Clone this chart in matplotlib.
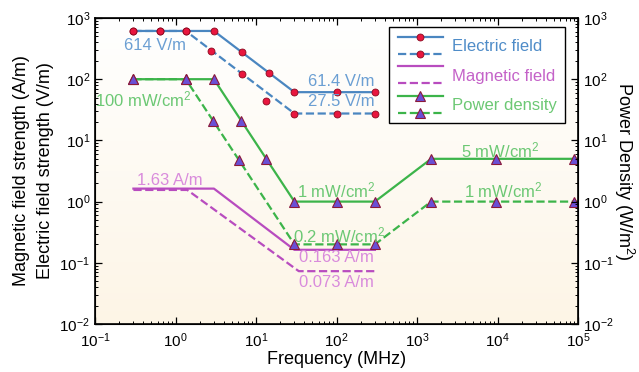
import matplotlib
matplotlib.use("Agg")
import matplotlib.pyplot as plt
import numpy as np
from matplotlib.lines import Line2D
from matplotlib.legend_handler import HandlerBase
from matplotlib.colors import LinearSegmentedColormap

plt.rcParams['font.family'] = ['Liberation Sans', 'DejaVu Sans']
plt.rcParams['mathtext.fontset'] = 'custom'
plt.rcParams['mathtext.rm'] = 'Liberation Sans'
plt.rcParams['mathtext.it'] = 'Liberation Sans:italic'

# --- data (frequency in MHz) ---
e_solid_f = [0.3, 3, 30, 300]
e_solid_v = [614, 614, 61.4, 61.4]
e_solid_mf = [0.3, 0.65, 1.34, 3, 6.7, 14.5, 30, 100, 300]
e_solid_mv = [614, 614, 614, 614, 275, 127, 61.4, 61.4, 61.4]

e_dash_f = [0.3, 1.34, 30, 300]
e_dash_v = [614, 614, 27.5, 27.5]
e_dash_mf = [0.3, 0.65, 1.34, 2.8, 6.7, 13.3, 30, 100, 300]
e_dash_mv = [614, 614, 614, 293, 123, 44, 27.5, 27.5, 27.5]

h_solid_f = [0.3, 3, 30, 300]
h_solid_v = [1.63, 1.63, 0.163, 0.163]
h_dash_f = [0.3, 1.4, 34, 300]
h_dash_v = [1.55, 1.55, 0.073, 0.073]

p_solid_f = [0.3, 3, 30, 300, 1500, 100000]
p_solid_v = [100, 100, 1, 1, 5, 5]
p_solid_mf = [0.3, 1.34, 3, 6.5, 13.3, 30, 100, 300, 1500, 9500, 88000]
p_solid_mv = [100, 100, 100, 21, 4.9, 1, 1, 1, 5, 5, 5]

p_dash_f = [0.3, 1.34, 30, 300, 1500, 100000]
p_dash_v = [100, 100, 0.2, 0.2, 1, 1]
p_dash_mf = [0.3, 1.34, 2.9, 6.2, 30, 100, 300, 1500, 9500, 88000]
p_dash_mv = [100, 100, 21, 4.8, 0.2, 0.2, 0.2, 1, 1, 1]

# annotations: (text, x, y, colour key)
notes = [
    ("614 V/m", 0.556, 362, 'e'),
    ("61.4 V/m", 114, 93, 'e'),
    ("27.5 V/m", 114, 44, 'e'),
    ("100 mW/cm$^2$", 0.40, 47.5, 'p'),
    ("1.63 A/m", 0.855, 2.25, 'h'),
    ("1 mW/cm$^2$", 99, 1.55, 'p'),
    ("0.2 mW/cm$^2$", 107, 0.284, 'p'),
    ("0.163 A/m", 101, 0.12, 'h'),
    ("0.073 A/m", 101, 0.047, 'h'),
    ("5 mW/cm$^2$", 10700, 6.97, 'p'),
    ("1 mW/cm$^2$", 11750, 1.53, 'p'),
]

line_col = {'e': '#4a86c0', 'h': '#b84cbf', 'p': '#3cb44a'}
text_col = {'e': '#6b9fd3', 'h': '#d98bdc', 'p': '#6cc874'}
legend_col = {'e': '#4f8cc8', 'h': '#c462c8', 'p': '#6cc874'}


class HandlerPair(HandlerBase):
    # draws solid handle above dashed handle
    def create_artists(self, legend, orig_handle, xdescent, ydescent,
                       width, height, fontsize, trans):
        artists = []
        for line, frac in zip(orig_handle, (0.95, 0.1)):
            y = frac * height - ydescent
            l = Line2D([-xdescent, width - xdescent], [y, y],
                       color=line.get_color(), linestyle=line.get_linestyle(),
                       linewidth=line.get_linewidth(), transform=trans)
            artists.append(l)
            if line.get_marker() not in (None, 'None', '', ' '):
                m = Line2D([width / 2 - xdescent], [y], marker=line.get_marker(),
                           markersize=line.get_markersize(),
                           markerfacecolor=line.get_markerfacecolor(),
                           markeredgecolor=line.get_markeredgecolor(),
                           markeredgewidth=line.get_markeredgewidth(),
                           linestyle='none', transform=trans)
                artists.append(m)
        return artists


fig = plt.figure(figsize=(6.39, 3.72), dpi=100)
rect = [95 / 639, 48 / 372, 483 / 639, 306 / 372]

# background gradient
bg = fig.add_axes(rect, zorder=-1)
grad = np.linspace(0, 1, 256).reshape(-1, 1)
cmap = LinearSegmentedColormap.from_list('bg', ['#ffffff', '#fdf5e6'])
bg.imshow(grad, aspect='auto', cmap=cmap, extent=[0, 1, 0, 1], origin='upper')
bg.axis('off')

ax = fig.add_axes(rect)
ax.patch.set_alpha(0)
ax.set_xscale('log')
ax.set_yscale('log')
ax.set_xlim(1e-1, 1e5)
ax.set_ylim(1e-2, 1e3)

lw = 1.6
circ = dict(marker='o', markersize=5, markerfacecolor='#e8163e',
            markeredgecolor='#8a0a20', markeredgewidth=0.6)
tri = dict(marker='^', markersize=7, markerfacecolor='#6a4fd6',
           markeredgecolor='#8b1a3a', markeredgewidth=0.8)

ax.plot(e_solid_f, e_solid_v, color=line_col['e'], lw=lw)
ax.plot(e_dash_f, e_dash_v, color=line_col['e'], lw=lw, ls='--')
ax.plot(e_solid_mf, e_solid_mv, ls='none', **circ)
ax.plot(e_dash_mf, e_dash_mv, ls='none', **circ)

ax.plot(h_solid_f, h_solid_v, color=line_col['h'], lw=lw)
ax.plot(h_dash_f, h_dash_v, color=line_col['h'], lw=lw, ls='--')

ax.plot(p_solid_f, p_solid_v, color=line_col['p'], lw=lw)
ax.plot(p_dash_f, p_dash_v, color=line_col['p'], lw=lw, ls='--')
ax.plot(p_solid_mf, p_solid_mv, ls='none', **tri)
ax.plot(p_dash_mf, p_dash_mv, ls='none', **tri)

for txt, x, y, k in notes:
    ax.text(x, y, txt, color=text_col[k], fontsize=12, ha='center', va='center')

# legend: solid over dashed for each quantity
handles = [
    (Line2D([], [], color=line_col['e'], lw=lw, **circ),
     Line2D([], [], color=line_col['e'], lw=lw, ls='--', **circ)),
    (Line2D([], [], color=line_col['h'], lw=lw),
     Line2D([], [], color=line_col['h'], lw=lw, ls='--')),
    (Line2D([], [], color=line_col['p'], lw=lw, **tri),
     Line2D([], [], color=line_col['p'], lw=lw, ls='--', **tri)),
]
labels = ['Electric field', 'Magnetic field', 'Power density']
leg = ax.legend(handles, labels, handler_map={tuple: HandlerPair()},
                loc='upper right', bbox_to_anchor=(0.973, 0.97), borderaxespad=0,
                fontsize=12, handlelength=2.7, handleheight=1.5, labelspacing=0.55,
                handletextpad=0.55, borderpad=0.5, fancybox=False, framealpha=1,
                edgecolor='black')
leg.get_frame().set_linewidth(1.0)
for t, k in zip(leg.get_texts(), ['e', 'h', 'p']):
    t.set_color(legend_col[k])

ax.tick_params(which='both', direction='in', top=True, right=False, labelsize=11)
ax.tick_params(axis='x', pad=5)
ax.tick_params(which='major', length=5, width=0.9)
ax.tick_params(which='minor', length=2.5, width=0.7)
for s in ax.spines.values():
    s.set_linewidth(1.2)

ax2 = ax.twinx()
ax2.set_yscale('log')
ax2.set_ylim(1e-2, 1e3)
ax2.tick_params(which='both', direction='in', labelsize=11)
ax2.tick_params(which='major', length=5, width=0.9)
ax2.tick_params(which='minor', length=2.5, width=0.7)

ax.set_xlabel('Frequency (MHz)', fontsize=13, labelpad=1)
ax.set_ylabel('Magnetic field strength (A/m)\nElectric field strength (V/m)',
              fontsize=13, labelpad=4, linespacing=1.5)
ax2.set_ylabel('Power Density (W/m$^2$)', fontsize=13, rotation=270, labelpad=16)

fig.savefig('out.png', dpi=100)
